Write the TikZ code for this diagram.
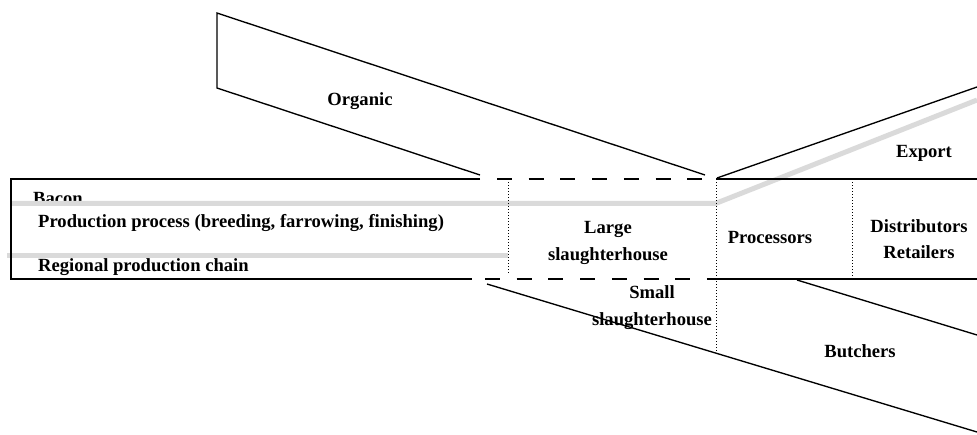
\documentclass[tikz,border=0pt]{standalone}
\usepackage{fontspec}
\setmainfont{Liberation Serif}
\definecolor{chaingrey}{RGB}{218,218,218}
\tikzset{
  edge/.style={line width=1.35pt, black},
  dashedge/.style={line width=1.35pt, black, dash pattern=on 15pt off 16.7pt},
  divider/.style={line width=0.9pt, black, dash pattern=on 1pt off 2pt},
  chain/.style={line width=5pt, chaingrey},
  lbl/.style={font=\fontsize{18.6}{22}\selectfont\bfseries, inner sep=0pt, anchor=base},
  lblw/.style={lbl, anchor=base west}
}
\begin{document}
\begin{tikzpicture}[x=1pt, y=-1pt]
\useasboundingbox (0,0) rectangle (977,434);
% coordinates
\coordinate (tl) at (11,179);
\coordinate (bl) at (11,279);
\coordinate (tsE) at (480,179);
\coordinate (tdS) at (497,179);
\coordinate (tdE) at (705,179);
\coordinate (trS) at (716,179);
\coordinate (trE) at (977,179);
\coordinate (bsE) at (472,279);
\coordinate (bdS) at (485,279);
\coordinate (bdE) at (716,279);
\coordinate (brE) at (977,279);
\coordinate (oA) at (480,175);
\coordinate (oB) at (217,88);
\coordinate (oC) at (217,13);
\coordinate (oD) at (705,175);
\coordinate (eA) at (717,178);
\coordinate (eB) at (977,87);
\coordinate (sA) at (487,284);
\coordinate (sB) at (977,432);
\coordinate (bA) at (797,280);
\coordinate (bB) at (977,335);
% labels
\node[lblw] (bacon) at (33,204.5) {Bacon};
\node[lblw] (prod) at (38,227) {Production process (breeding, farrowing, finishing)};
\node[lblw] (regional) at (38,271) {Regional production chain};
\node[lbl] (organic) at (360,105) {Organic};
\node[lbl] (large1) at (608,233) {Large};
\node[lbl] (large2) at (608,260) {slaughterhouse};
\node[lbl] (proc) at (770,243) {Processors};
\node[lbl] (distr1) at (919,232) {Distributors};
\node[lbl] (distr2) at (919,258) {Retailers};
\node[lbl] (export) at (924,157) {Export};
\node[lbl] (small1) at (652,298) {Small};
\node[lbl] (small2) at (652,325) {slaughterhouse};
\node[lbl] (butch) at (860,357) {Butchers};
% grey chains
\draw[chain] (12,203.3) coordinate (gA) -- (716,203.3) coordinate (gB) -- (977,100) coordinate (gC);
\draw[chain] (7,255.5) coordinate (hA) -- (508,255.5) coordinate (hB);
% main box
\draw[edge] (tsE) -- (tl) -- (bl) -- (bsE);
\draw[dashedge] (tdS) -- (tdE);
\draw[dashedge] (bdS) -- (bdE);
\draw[edge] (trS) -- (trE);
\draw[edge] (bdE) -- (brE);
% dividers
\draw[divider] (508,179) coordinate (d1a) -- (508,274) coordinate (d1b);
\draw[divider] (716,179) coordinate (d2a) -- (716,354) coordinate (d2b);
\draw[divider] (852,179) coordinate (d3a) -- (852,279) coordinate (d3b);
% organic
\draw[edge] (oA) -- (oB) -- (oC) -- (oD);
% export
\draw[edge] (eA) -- (eB);
% small slaughterhouse / butchers
\draw[edge] (sA) -- (sB);
\draw[edge] (bA) -- (bB);
\end{tikzpicture}
\end{document}
